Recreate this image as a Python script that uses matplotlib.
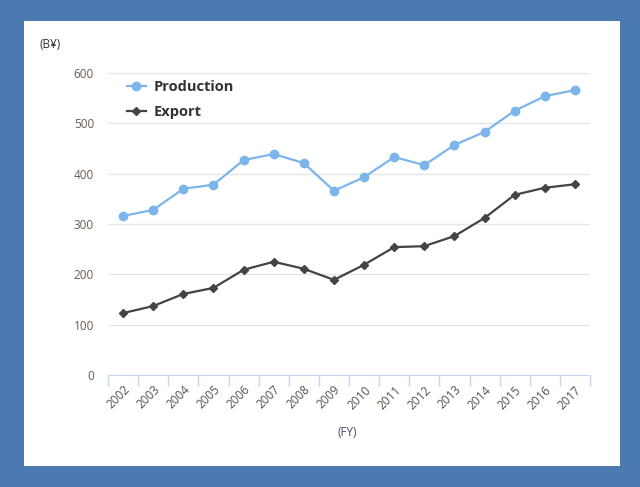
import matplotlib
matplotlib.use('Agg')
import matplotlib.pyplot as plt
from matplotlib.patches import Rectangle
import numpy as np

years = ['2002', '2003', '2004', '2005', '2006', '2007', '2008', '2009',
         '2010', '2011', '2012', '2013', '2014', '2015', '2016', '2017']
production = [316, 328, 370, 378, 427, 439, 421, 366,
              393, 433, 417, 457, 483, 525, 554, 566]
export = [123, 137, 161, 173, 209, 225, 211, 189,
          219, 254, 256, 276, 312, 358, 372, 379]
yticks = [0, 100, 200, 300, 400, 500, 600]

plt.rcParams['font.family'] = ['Open Sans', 'DejaVu Sans']

fig = plt.figure(figsize=(6.4, 4.87), dpi=100)
fig.patch.set_facecolor('#4a7ab0')
# white card behind the axes
fig.patches.append(Rectangle((24 / 640, 1 - 466 / 487), 596 / 640, 445 / 487,
                             transform=fig.transFigure, facecolor='white',
                             edgecolor='none', zorder=-1))

ax = fig.add_axes([108 / 640, 1 - 375 / 487, 482 / 640, 302 / 487])
ax.set_facecolor('none')

x = np.arange(len(years))
ax.plot(x, production, color='#7cb5ec', lw=1.6, marker='o', ms=6,
        label='Production', clip_on=False, zorder=3)
ax.plot(x, export, color='#434348', lw=1.6, marker='D', ms=4.5,
        label='Export', clip_on=False, zorder=3)

ax.set_xlim(-0.5, len(years) - 0.5)
ax.set_ylim(0, 600)
ax.set_yticks(yticks)
ax.yaxis.grid(True, color='#e6e6e6', lw=1)
ax.set_axisbelow(True)

# ticks at category boundaries, labels centered
ax.set_xticks(np.arange(len(years) + 1) - 0.5)
ax.set_xticklabels([])
ax.set_xticks(x, minor=True)
ax.set_xticklabels(years, minor=True, rotation=45, ha='right',
                   rotation_mode='anchor', fontsize=8.5, color='#5a5048')
ax.tick_params(axis='x', which='major', length=8, color='#ccd6eb', width=1)
ax.tick_params(axis='x', which='minor', length=0, pad=6)
ax.tick_params(axis='y', length=0, labelsize=8.5, labelcolor='#6b5b4e', pad=10)

for s in ['top', 'right', 'left']:
    ax.spines[s].set_visible(False)
ax.spines['bottom'].set_color('#ccd6eb')

leg = ax.legend(loc='upper left', frameon=False, bbox_to_anchor=(0.012, 1.02),
                prop={'weight': 'bold', 'size': 10.5}, handlelength=1.3,
                handletextpad=0.5, labelspacing=0.75)
for t in leg.get_texts():
    t.set_color('#333333')

fig.text(40 / 640, 1 - 44 / 487, '(B¥)', fontsize=8.5, color='#333333',
         va='center', ha='left')
fig.text(347 / 640, 1 - 432 / 487, '(FY)', fontsize=8.5, color='#4a4a6a',
         va='center', ha='center')

fig.savefig('out.png', dpi=100, facecolor=fig.get_facecolor())
